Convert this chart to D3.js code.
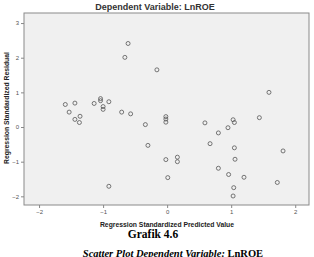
<!DOCTYPE html>
<html><head><meta charset="utf-8">
<script src="https://cdn.jsdelivr.net/npm/d3@7"></script>
<style>html,body{margin:0;padding:0;background:#fff;}svg{display:block;}</style>
</head><body>
<svg id="chart" width="314" height="257"></svg>
<script>
const predicted = [-0.61,-0.66,-0.16,-1.59,-1.44,-1.53,-1.44,-1.36,-1.37,-1.14,-1.04,-1.04,-1.00,-1.00,-0.91,-0.71,-0.57,-0.34,-0.02,-0.02,-0.02,1.59,1.44,1.03,1.05,0.59,0.95,-0.30,-0.02,0.01,-0.91,0.80,0.67,1.05,1.81,0.16,0.16,1.06,0.80,0.96,1.20,1.72,1.04,1.03];
const residual  = [2.41,2.01,1.65,0.65,0.69,0.43,0.22,0.31,0.13,0.68,0.82,0.76,0.59,0.51,0.73,0.43,0.38,0.07,0.30,0.23,0.14,1.00,0.27,0.21,0.13,0.12,-0.02,-0.53,-0.94,-1.46,-1.71,-0.17,-0.48,-0.60,-0.69,-0.87,-1.00,-0.93,-1.19,-1.37,-1.45,-1.60,-1.75,-1.99];
const xTicks = [-2,-1,0,1,2];
const yTicks = [-2,-1,0,1,2,3];
const chartTitle = "Dependent Variable: LnROE";
const xTitle = "Regression Standardized Predicted Value";
const yTitle = "Regression Standardized Residual";

const svg = d3.select("#chart");
const L = 24, R = 309, T = 13, B = 205;
const x = d3.scaleLinear().domain([-2.235, 2.215]).range([L, R]);
const y = d3.scaleLinear().domain([-2.25, 3.29]).range([B, T]);

svg.append("rect").attr("x", L).attr("y", T).attr("width", R - L).attr("height", B - T)
  .attr("fill", "#f0f0f0").attr("stroke", "#8a8a8a").attr("stroke-width", 1);

const font = "'Liberation Sans', Arial, sans-serif";
const xAxis = svg.append("g").attr("transform", `translate(0,${B})`)
  .call(d3.axisBottom(x).tickValues(xTicks).tickSize(3).tickPadding(2).tickFormat(d3.format("d")));
const yAxis = svg.append("g").attr("transform", `translate(${L},0)`)
  .call(d3.axisLeft(y).tickValues(yTicks).tickSize(3).tickPadding(2).tickFormat(d3.format("d")));
[xAxis, yAxis].forEach(a => {
  a.select(".domain").remove();
  a.selectAll(".tick line").attr("stroke", "#888");
  a.selectAll(".tick text").attr("fill", "#555").style("font-family", font).style("font-size", "6px");
});

svg.append("g").selectAll("circle").data(predicted).join("circle")
  .attr("cx", (d) => x(d)).attr("cy", (d, i) => y(residual[i])).attr("r", 2)
  .attr("fill", "none").attr("stroke", "#555").attr("stroke-width", 0.8);

svg.append("text").attr("x", 155).attr("y", 10).attr("text-anchor", "middle")
  .style("font-family", font).style("font-size", "9px").style("font-weight", "600").attr("fill", "#333").text(chartTitle);
svg.append("text").attr("x", 167).attr("y", 226.5).attr("text-anchor", "middle")
  .style("font-family", font).style("font-size", "6.8px").style("font-weight", "bold").attr("fill", "#222").text(xTitle);
svg.append("text").attr("transform", "translate(9,108) rotate(-90)").attr("text-anchor", "middle")
  .style("font-family", font).style("font-size", "6.8px").style("font-weight", "bold").attr("fill", "#222").text(yTitle);

const serif = "'Liberation Serif', 'Times New Roman', serif";
svg.append("text").attr("x", 153).attr("y", 238).attr("text-anchor", "middle")
  .style("font-family", serif).style("font-size", "11.5px").style("font-weight", "bold").attr("fill", "#000").text("Grafik 4.6");
const cap = svg.append("text").attr("x", 173).attr("y", 256.5).attr("text-anchor", "middle")
  .style("font-family", serif).style("font-size", "10.5px").style("font-weight", "bold").attr("fill", "#000");
cap.append("tspan").style("font-style", "italic").text("Scatter Plot Dependent Variable: ");
cap.append("tspan").text("LnROE");
</script>
</body></html>
